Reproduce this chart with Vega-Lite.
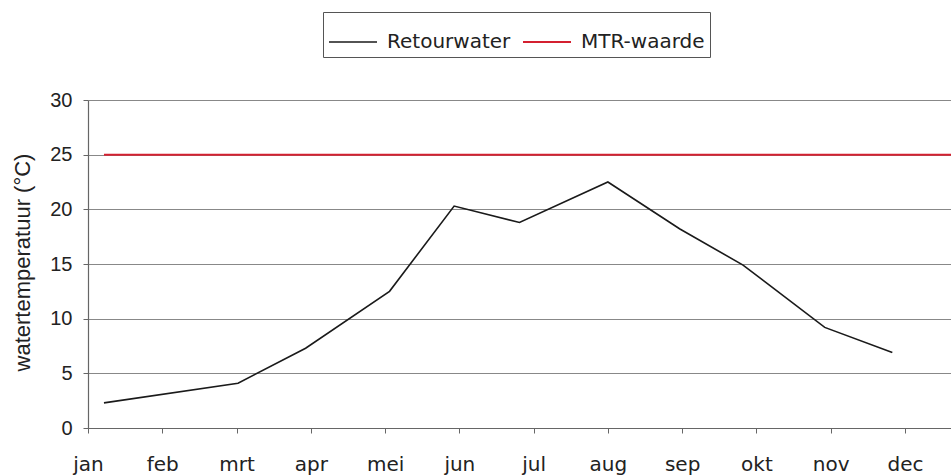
{
  "$schema": "https://vega.github.io/schema/vega-lite/v6.json",
  "autosize": {"type": "none"},
  "padding": {"left": 88, "top": 100, "right": 0, "bottom": 47},
  "width": 863,
  "height": 328,
  "background": "white",
  "config": {
    "view": {"stroke": null},
    "axis": {"domainColor": "#666666", "tickColor": "#666666", "gridColor": "#888888", "gridWidth": 1, "domainWidth": 1.2}
  },
  "data": {
    "values": [
      {"maand": 0.215, "temperatuur": 2.3, "reeks": "Retourwater"},
      {"maand": 2.02, "temperatuur": 4.1, "reeks": "Retourwater"},
      {"maand": 2.93, "temperatuur": 7.3, "reeks": "Retourwater"},
      {"maand": 4.06, "temperatuur": 12.5, "reeks": "Retourwater"},
      {"maand": 4.93, "temperatuur": 20.3, "reeks": "Retourwater"},
      {"maand": 5.81, "temperatuur": 18.8, "reeks": "Retourwater"},
      {"maand": 7.0, "temperatuur": 22.5, "reeks": "Retourwater"},
      {"maand": 7.97, "temperatuur": 18.2, "reeks": "Retourwater"},
      {"maand": 8.82, "temperatuur": 14.9, "reeks": "Retourwater"},
      {"maand": 9.92, "temperatuur": 9.2, "reeks": "Retourwater"},
      {"maand": 10.83, "temperatuur": 6.9, "reeks": "Retourwater"},
      {"maand": 0.215, "temperatuur": 25, "reeks": "MTR-waarde"},
      {"maand": 11.62, "temperatuur": 25, "reeks": "MTR-waarde"}
    ]
  },
  "mark": {"type": "line", "clip": true},
  "encoding": {
    "x": {
      "field": "maand",
      "type": "quantitative",
      "scale": {"domain": [0, 11.62], "nice": false, "zero": false},
      "axis": {
        "title": null,
        "grid": false,
        "values": [0, 1, 2, 3, 4, 5, 6, 7, 8, 9, 10, 11],
        "labelExpr": "['jan','feb','mrt','apr','mei','jun','jul','aug','sep','okt','nov','dec'][datum.value]",
        "tickSize": 5,
        "labelFont": "DejaVu Sans",
        "labelFontSize": 20,
        "labelColor": "#222222",
        "labelBaseline": "alphabetic",
        "labelPadding": 37,
        "labelAlign": "center",
        "labelOverlap": false,
        "labelFlush": false,
        "labelBound": false
      }
    },
    "y": {
      "field": "temperatuur",
      "type": "quantitative",
      "scale": {"domain": [0, 30], "nice": false},
      "axis": {
        "title": "watertemperatuur (°C)",
        "values": [0, 5, 10, 15, 20, 25, 30],
        "tickSize": 5,
        "labelFont": "Liberation Sans",
        "labelFontSize": 20,
        "labelColor": "#222222",
        "labelPadding": 11,
        "titleFont": "Liberation Sans",
        "titleFontSize": 22,
        "titleFontWeight": "normal",
        "titleColor": "#222222",
        "titleX": -59,
        "titleY": 162,
        "titleAngle": 270,
        "titleAlign": "center",
        "titleBaseline": "alphabetic"
      }
    },
    "color": {
      "field": "reeks",
      "type": "nominal",
      "scale": {"domain": ["Retourwater", "MTR-waarde"], "range": ["#1a1a1a", "#d42030"]},
      "legend": {
        "title": null,
        "orient": "none",
        "direction": "horizontal",
        "legendX": 235,
        "legendY": -88,
        "symbolType": "stroke",
        "symbolSize": 2304,
        "symbolStrokeWidth": 2,
        "labelFont": "DejaVu Sans",
        "labelFontSize": 20,
        "labelColor": "#222222",
        "labelOffset": 9,
        "columnPadding": 8,
        "padding": 5,
        "strokeColor": "#555555",
        "fillColor": "white",
        "labelLimit": 300
      }
    },
    "strokeWidth": {
      "field": "reeks",
      "type": "nominal",
      "scale": {"domain": ["Retourwater", "MTR-waarde"], "range": [1.6, 2]},
      "legend": null
    }
  }
}
